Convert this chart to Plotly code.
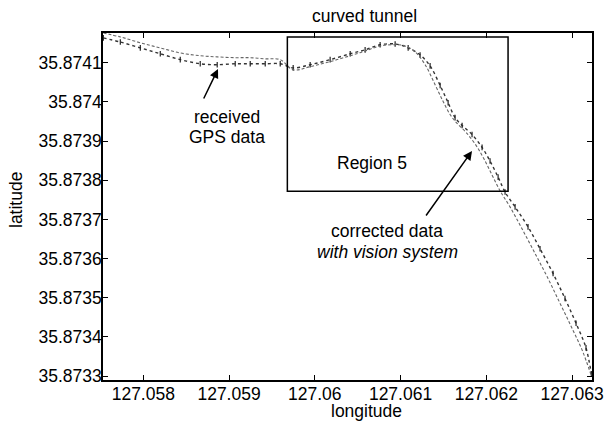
import plotly.graph_objects as go

# received GPS data
gps_lon = [127.057534, 127.057732, 127.057965, 127.058198, 127.058431, 127.058664, 127.058862,
           127.059072, 127.059247, 127.059422, 127.059597, 127.059748, 127.059946, 127.060179,
           127.060413, 127.060587, 127.060762, 127.060937, 127.061089, 127.061228, 127.061345,
           127.061462, 127.061555, 127.061636, 127.061718, 127.061834, 127.061951, 127.062044,
           127.062138, 127.062219, 127.062336, 127.062487, 127.062627, 127.062779, 127.062918,
           127.063047, 127.063163, 127.063225]
gps_lat = [35.8741635, 35.874153, 35.874138, 35.874123, 35.874108, 35.8740975, 35.874095,
           35.8740975, 35.8740975, 35.8740975, 35.8740975, 35.874087, 35.874095, 35.874108,
           35.874123, 35.874133, 35.874146, 35.874148, 35.874138, 35.874120, 35.874092,
           35.874042, 35.873998, 35.873960, 35.873940, 35.873917, 35.873884, 35.873849,
           35.873808, 35.873770, 35.873732, 35.873681, 35.873625, 35.873562, 35.873498,
           35.873435, 35.873372, 35.873306]

# corrected data with vision system
cor_lon = [127.057534, 127.057732, 127.057965, 127.058198, 127.058431, 127.058664, 127.058862,
           127.059072, 127.059247, 127.059422, 127.059597, 127.059748, 127.059946, 127.060179,
           127.060413, 127.060587, 127.060762, 127.060937, 127.061054, 127.061170, 127.061287,
           127.061403, 127.061497, 127.061578, 127.061648, 127.061765, 127.061881, 127.061974,
           127.062068, 127.062161, 127.062277, 127.062417, 127.062557, 127.062709, 127.062860,
           127.063000, 127.063117, 127.063225]
cor_lat = [35.874176, 35.874166, 35.874151, 35.874138, 35.874125, 35.874118, 35.874115,
           35.874113, 35.874113, 35.874110, 35.874108, 35.874082, 35.874090, 35.874103,
           35.874118, 35.874130, 35.874143, 35.874146, 35.874143, 35.874128, 35.874095,
           35.874044, 35.874001, 35.873968, 35.873948, 35.873922, 35.873889, 35.873854,
           35.873813, 35.873773, 35.873732, 35.873676, 35.873618, 35.873554, 35.873486,
           35.873422, 35.873367, 35.873301]

x_ticks = [127.058, 127.059, 127.06, 127.061, 127.062, 127.063]
x_tick_labels = ["127.058", "127.059", "127.06", "127.061", "127.062", "127.063"]
y_ticks = [35.8733, 35.8734, 35.8735, 35.8736, 35.8737, 35.8738, 35.8739, 35.874, 35.8741]
y_tick_labels = ["35.8733", "35.8734", "35.8735", "35.8736", "35.8737", "35.8738", "35.8739", "35.874", "35.8741"]

region_lon = [127.05968, 127.062254]
region_lat = [35.873772, 35.874166]

FONT = "Liberation Sans, Arial, Helvetica, sans-serif"
FS = 17.5

fig = go.Figure()
fig.add_trace(go.Scatter(
    x=gps_lon, y=gps_lat, mode="lines+markers", name="received GPS data",
    line=dict(color="#333333", width=1.4, dash="dot", shape="spline"),
    marker=dict(symbol="line-ns", size=4, line=dict(width=1.2, color="#222222")),
))
fig.add_trace(go.Scatter(
    x=cor_lon, y=cor_lat, mode="lines", name="corrected data with vision system",
    line=dict(color="#666666", width=1.1, dash="3px,2px", shape="spline"),
))

fig.add_shape(type="rect", x0=region_lon[0], x1=region_lon[1], y0=region_lat[0], y1=region_lat[1],
              line=dict(color="black", width=1.5), xref="x", yref="y")

anns = [
    dict(text="received", x=227, y=117),
    dict(text="GPS data", x=227, y=137),
    dict(text="Region 5", x=372, y=163),
    dict(text="corrected data", x=387, y=231),
    dict(text="<i>with vision system</i>", x=387, y=252),
]
W, H = 604, 423
L, R, T, B = 103, 12, 33, 43
pw, ph = W - L - R, H - T - B

def px(xp):
    return (xp - L) / pw

def py(yp):
    return 1 - (yp - T) / ph

for a in anns:
    fig.add_annotation(text=a["text"], x=px(a["x"]), y=py(a["y"]), xref="paper", yref="paper",
                       showarrow=False, font=dict(family=FONT, size=FS, color="black"),
                       xanchor="center", yanchor="middle")

# arrows (tail -> head, in pixel offsets)
for (tx, ty, hx, hy) in [(203, 100, 218, 69), (425, 217, 472, 151)]:
    fig.add_annotation(x=px(hx), y=py(hy), ax=tx - hx, ay=ty - hy, xref="paper", yref="paper",
                       axref="pixel", ayref="pixel", text="", showarrow=True,
                       arrowhead=2, arrowsize=1.2, arrowwidth=1.5, arrowcolor="black")

# title and axis titles
fig.add_annotation(text="curved tunnel", x=px(364), y=py(16), xref="paper", yref="paper",
                   showarrow=False, font=dict(family=FONT, size=FS, color="black"),
                   xanchor="center", yanchor="middle")
fig.add_annotation(text="longitude", x=px(366), y=py(411), xref="paper", yref="paper",
                   showarrow=False, font=dict(family=FONT, size=FS, color="black"),
                   xanchor="center", yanchor="middle")
fig.add_annotation(text="latitude", x=px(16), y=py(200), xref="paper", yref="paper",
                   showarrow=False, textangle=-90, font=dict(family=FONT, size=FS, color="black"),
                   xanchor="center", yanchor="middle")

axis_common = dict(
    showgrid=False, zeroline=False, showline=True, linecolor="black", linewidth=1.5,
    mirror="ticks", ticks="inside", ticklen=5, tickwidth=1, tickcolor="black",
    tickfont=dict(family=FONT, size=FS, color="black"), automargin=False,
)
fig.update_xaxes(range=[127.05753, 127.063233], tickvals=x_ticks, ticktext=x_tick_labels,
                 ticklabelstandoff=-3, **axis_common)
fig.update_yaxes(range=[35.87329, 35.874176], tickvals=y_ticks, ticktext=y_tick_labels,
                 ticklabelstandoff=-4, **axis_common)

fig.update_layout(
    width=W, height=H, margin=dict(l=L, r=R, t=T, b=B, autoexpand=False),
    paper_bgcolor="white", plot_bgcolor="white", showlegend=False,
    font=dict(family=FONT, size=FS, color="black"),
)
fig.write_html("out.html", config={"displayModeBar": False},
               post_script="document.body.style.margin='0';document.body.style.overflow='hidden';")
